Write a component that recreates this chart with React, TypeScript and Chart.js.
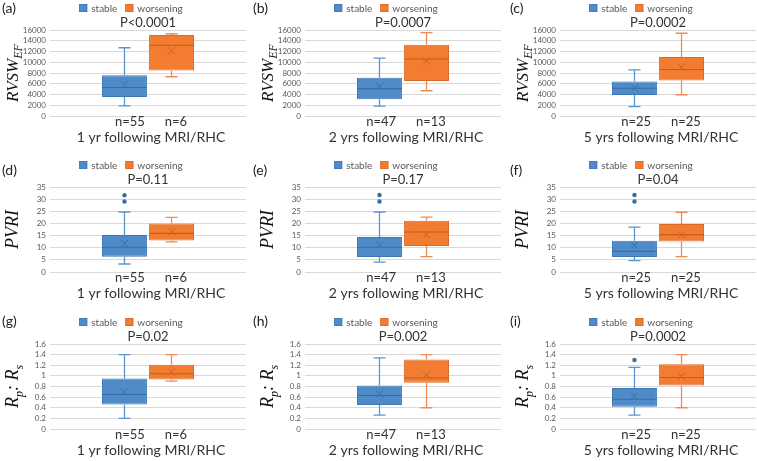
import React, { useEffect, useRef } from 'react';
import { Chart, registerables } from 'chart.js';
Chart.register(...registerables);

// ---------- data ----------
const SERIES = ['stable', 'worsening'];
const PERIODS = ['1 yr following MRI/RHC', '2 yrs following MRI/RHC', '5 yrs following MRI/RHC'];
const N_STABLE = [55, 47, 25];
const N_WORSENING = [6, 13, 25];
const LETTERS = [['(a)', '(b)', '(c)'], ['(d)', '(e)', '(f)'], ['(g)', '(h)', '(i)']];
const P_VALUES = [
  ['P<0.0001', 'P=0.0007', 'P=0.0002'],
  ['P=0.11', 'P=0.17', 'P=0.04'],
  ['P=0.02', 'P=0.002', 'P=0.0002'],
];

// five-number summaries: [min, q1, median, q3, max]
const RVSW_STABLE = [[1900, 3550, 5300, 7600, 12700], [1850, 3100, 5100, 7100, 10750], [1750, 3900, 5150, 6400, 8600]];
const RVSW_STABLE_MEAN = [5850, 5550, 5150];
const RVSW_WORSE = [[7300, 8450, 13150, 15050, 15300], [4700, 6500, 10600, 13250, 15500], [3950, 6600, 8650, 11000, 15400]];
const RVSW_WORSE_MEAN = [12150, 10250, 9100];

const PVRI_STABLE = [[3.3, 6.3, 10.2, 15.2, 24.7], [4.1, 6.2, 10.2, 14.4, 24.7], [4.7, 6.2, 8.5, 12.9, 18.5]];
const PVRI_STABLE_MEAN = [11.8, 11.3, 11.0];
const PVRI_STABLE_OUTLIERS = [[29, 31.6], [29, 31.7], [29, 31.7]];
const PVRI_WORSE = [[12.4, 13.0, 15.9, 20.0, 22.5], [6.3, 10.7, 16.5, 21.1, 22.6], [6.3, 12.6, 15.4, 19.8, 24.6]];
const PVRI_WORSE_MEAN = [16.6, 15.4, 15.4];

const RPRS_STABLE = [[0.2, 0.46, 0.65, 0.95, 1.4], [0.26, 0.45, 0.63, 0.82, 1.34], [0.26, 0.42, 0.56, 0.77, 1.16]];
const RPRS_STABLE_MEAN = [0.7, 0.66, 0.62];
const RPRS_STABLE_OUTLIERS = [[], [], [1.3]];
const RPRS_WORSE = [[0.9, 0.93, 1.04, 1.21, 1.4], [0.4, 0.87, 0.96, 1.31, 1.4], [0.4, 0.82, 0.97, 1.22, 1.4]];
const RPRS_WORSE_MEAN = [1.07, 1.02, 0.99];

const Y_MAX = [16000, 35, 1.6];
const Y_STEP = [2000, 5, 0.2];

// ---------- styles ----------
const FONT = 'Lato, "Open Sans", sans-serif';
const MATH_FONT = '"Liberation Serif", "DejaVu Serif", serif';
const BLUE = '#4E8BC8';
const BLUE_EDGE = '#3F78B0';
const BLUE_WHISKER = '#5B96CE';
const BLUE_LINE = '#3A6C9E';
const ORANGE = '#F27C30';
const ORANGE_EDGE = '#D96A28';
const ORANGE_WHISKER = '#EE8C55';
const ORANGE_LINE = '#C45E1F';
const TEXT = '#333333';

const COL_LEFT = [0, 255, 510];
const ROW_TOP = [0, 157, 314];
const PAD_BOTTOM = [30, 31, 31];
const CANVAS_W = 250;
const CANVAS_H = 146;

type Part = { t: string; sub?: boolean };
const Y_TITLES: Part[][] = [
  [{ t: 'RVSW' }, { t: 'EF', sub: true }],
  [{ t: 'PVRI' }],
  [{ t: 'R' }, { t: 'p', sub: true }, { t: ': R' }, { t: 's', sub: true }],
];
const Y_TITLE_SIZE = [17, 18, 18];

const boxPlugin = {
  id: 'boxw',
  afterDatasetsDraw(chart: any, _args: any, opts: any) {
    const ctx = chart.ctx;
    const ys = chart.scales.y;
    const py = (v: number) => ys.getPixelForValue(v);
    (opts.stats || []).forEach((s: any, i: number) => {
      const el = chart.getDatasetMeta(i).data[0];
      if (!el) return;
      const x = el.x;
      const w = el.width;
      const [mn, q1, med, q3, mx] = s.five;
      const cap = 6;
      ctx.save();
      ctx.lineWidth = 1.3;
      ctx.strokeStyle = s.whisker;
      ctx.beginPath();
      ctx.moveTo(x, py(q3)); ctx.lineTo(x, py(mx));
      ctx.moveTo(x - cap, py(mx)); ctx.lineTo(x + cap, py(mx));
      ctx.moveTo(x, py(q1)); ctx.lineTo(x, py(mn));
      ctx.moveTo(x - cap, py(mn)); ctx.lineTo(x + cap, py(mn));
      ctx.stroke();
      ctx.strokeStyle = s.line;
      ctx.lineWidth = 1.1;
      ctx.beginPath();
      ctx.moveTo(x - w / 2, py(med)); ctx.lineTo(x + w / 2, py(med));
      ctx.stroke();
      const my = py(s.mean);
      const r = 3.5;
      ctx.lineWidth = 0.9;
      ctx.beginPath();
      ctx.moveTo(x - r, my - r); ctx.lineTo(x + r, my + r);
      ctx.moveTo(x - r, my + r); ctx.lineTo(x + r, my - r);
      ctx.stroke();
      ctx.fillStyle = s.line;
      (s.outliers || []).forEach((v: number) => {
        ctx.beginPath();
        ctx.arc(x, py(v), 2.2, 0, Math.PI * 2);
        ctx.fill();
      });
      ctx.restore();
    });
  },
  afterDraw(chart: any, _args: any, opts: any) {
    const ctx = chart.ctx;
    const area = chart.chartArea;
    const cx = (area.left + area.right) / 2;
    ctx.save();
    ctx.textBaseline = 'middle';

    // legend (series names from the datasets)
    const items = chart.data.datasets.map((d: any) => ({ label: d.label, fill: d.backgroundColor, edge: d.borderColor }));
    ctx.font = `10px ${FONT}`;
    const box = 8, gapText = 4, gapItem = 8;
    const widths = items.map((it: any) => box + gapText + ctx.measureText(it.label).width);
    const totalW = widths.reduce((a: number, b: number) => a + b, 0) + gapItem * (items.length - 1);
    let lx = opts.legendX - totalW / 2;
    const ly = area.top - 22;
    items.forEach((it: any, i: number) => {
      ctx.fillStyle = it.fill;
      ctx.fillRect(lx, ly - box / 2, box, box);
      ctx.strokeStyle = it.edge;
      ctx.lineWidth = 0.8;
      ctx.strokeRect(lx + 0.4, ly - box / 2 + 0.4, box - 0.8, box - 0.8);
      ctx.fillStyle = '#595959';
      ctx.textAlign = 'left';
      ctx.fillText(it.label, lx + box + gapText, ly + 0.5);
      lx += widths[i] + gapItem;
    });

    // p-value title
    ctx.textAlign = 'center';
    ctx.fillStyle = TEXT;
    ctx.font = `13px ${FONT}`;
    ctx.fillText(opts.pText, cx, area.top - 7);

    // category label and axis title
    ctx.font = `13px ${FONT}`;
    ctx.fillText(chart.data.labels[0], cx + 3, area.bottom + 5.5);
    ctx.font = `14px ${FONT}`;
    ctx.fillText(opts.xTitle, cx + 3, area.bottom + 21.5);
    ctx.restore();

    // y-axis title with subscripts
    const parts: Part[] = opts.yTitle || [];
    const fs: number = opts.yTitleSize;
    const sub = Math.round(fs * 0.68);
    const fontOf = (p: Part) => `italic ${p.sub ? sub : fs}px ${MATH_FONT}`;
    ctx.save();
    const cy = (area.top + area.bottom) / 2;
    ctx.translate(opts.yTitleX, cy);
    ctx.rotate(-Math.PI / 2);
    let total = 0;
    parts.forEach((p) => { ctx.font = fontOf(p); total += ctx.measureText(p.t).width; });
    let xx = -total / 2;
    const base = fs * 0.33;
    ctx.fillStyle = '#111111';
    ctx.textBaseline = 'alphabetic';
    ctx.textAlign = 'left';
    parts.forEach((p) => {
      ctx.font = fontOf(p);
      ctx.fillText(p.t, xx, p.sub ? base + fs * 0.28 : base);
      xx += ctx.measureText(p.t).width;
    });
    ctx.restore();
  },
};

function statsFor(row: number, col: number) {
  if (row === 0) {
    return [
      { five: RVSW_STABLE[col], mean: RVSW_STABLE_MEAN[col], outliers: [], whisker: BLUE_WHISKER, line: BLUE_LINE },
      { five: RVSW_WORSE[col], mean: RVSW_WORSE_MEAN[col], outliers: [], whisker: ORANGE_WHISKER, line: ORANGE_LINE },
    ];
  }
  if (row === 1) {
    return [
      { five: PVRI_STABLE[col], mean: PVRI_STABLE_MEAN[col], outliers: PVRI_STABLE_OUTLIERS[col], whisker: BLUE_WHISKER, line: BLUE_LINE },
      { five: PVRI_WORSE[col], mean: PVRI_WORSE_MEAN[col], outliers: [], whisker: ORANGE_WHISKER, line: ORANGE_LINE },
    ];
  }
  return [
    { five: RPRS_STABLE[col], mean: RPRS_STABLE_MEAN[col], outliers: RPRS_STABLE_OUTLIERS[col], whisker: BLUE_WHISKER, line: BLUE_LINE },
    { five: RPRS_WORSE[col], mean: RPRS_WORSE_MEAN[col], outliers: [], whisker: ORANGE_WHISKER, line: ORANGE_LINE },
  ];
}

function Panel({ row, col }: { row: number; col: number }) {
  const ref = useRef<HTMLCanvasElement | null>(null);
  useEffect(() => {
    const stats = statsFor(row, col);
    const chart = new Chart(ref.current as HTMLCanvasElement, {
      type: 'bar',
      data: {
        labels: [`n=${N_STABLE[col]}      n=${N_WORSENING[col]}`],
        datasets: [
          {
            label: SERIES[0],
            data: [[stats[0].five[1], stats[0].five[3]]] as any,
            backgroundColor: BLUE, borderColor: BLUE_EDGE, borderWidth: 1, borderSkipped: false,
          },
          {
            label: SERIES[1],
            data: [[stats[1].five[1], stats[1].five[3]]] as any,
            backgroundColor: ORANGE, borderColor: ORANGE_EDGE, borderWidth: 1, borderSkipped: false,
          },
        ],
      },
      options: {
        responsive: false,
        animation: false,
        maintainAspectRatio: false,
        layout: { padding: { left: 0, right: 4, top: 30, bottom: PAD_BOTTOM[row] } },
        datasets: { bar: { categoryPercentage: 0.48, barPercentage: 0.955 } },
        scales: {
          x: { display: false },
          y: {
            min: 0,
            max: Y_MAX[row],
            ticks: {
              stepSize: Y_STEP[row],
              autoSkip: false,
              font: { family: FONT, size: 8 },
              color: '#595959',
              padding: 4,
              callback: (v: any) => String(Math.round(Number(v) * 10) / 10),
            },
            grid: { color: '#d9d9d9', drawTicks: false },
            border: { display: false },
            afterFit: (s: any) => { s.width = 50; },
          },
        },
        plugins: {
          legend: { display: false },
          title: { display: false },
          tooltip: { enabled: false },
          boxw: {
            stats,
            yTitle: Y_TITLES[row],
            yTitleSize: Y_TITLE_SIZE[row],
            yTitleX: 12,
            legendX: 131,
            pText: P_VALUES[row][col],
            xTitle: PERIODS[col],
          },
        } as any,
      },
      plugins: [boxPlugin],
    });
    return () => chart.destroy();
  }, [row, col]);
  return (
    <canvas
      ref={ref}
      width={CANVAS_W}
      height={CANVAS_H}
      style={{ position: 'absolute', left: COL_LEFT[col], top: ROW_TOP[row], width: CANVAS_W, height: CANVAS_H }}
    />
  );
}

const LETTER_X = [2, 253, 510];
const LETTER_Y = [1, 163, 314];

export default function App() {
  const cells: any[] = [];
  for (let r = 0; r < 3; r++) {
    for (let c = 0; c < 3; c++) {
      cells.push(<Panel key={`p${r}${c}`} row={r} col={c} />);
      cells.push(
        <div
          key={`l${r}${c}`}
          style={{ position: 'absolute', left: LETTER_X[c], top: LETTER_Y[r], font: `14px ${FONT}`, color: '#222', lineHeight: '14px' }}
        >
          {LETTERS[r][c]}
        </div>
      );
    }
  }
  return (
    <div style={{ position: 'absolute', left: 0, top: 0, width: 757, height: 461, overflow: 'hidden', background: '#fff' }}>
      {cells}
    </div>
  );
}
